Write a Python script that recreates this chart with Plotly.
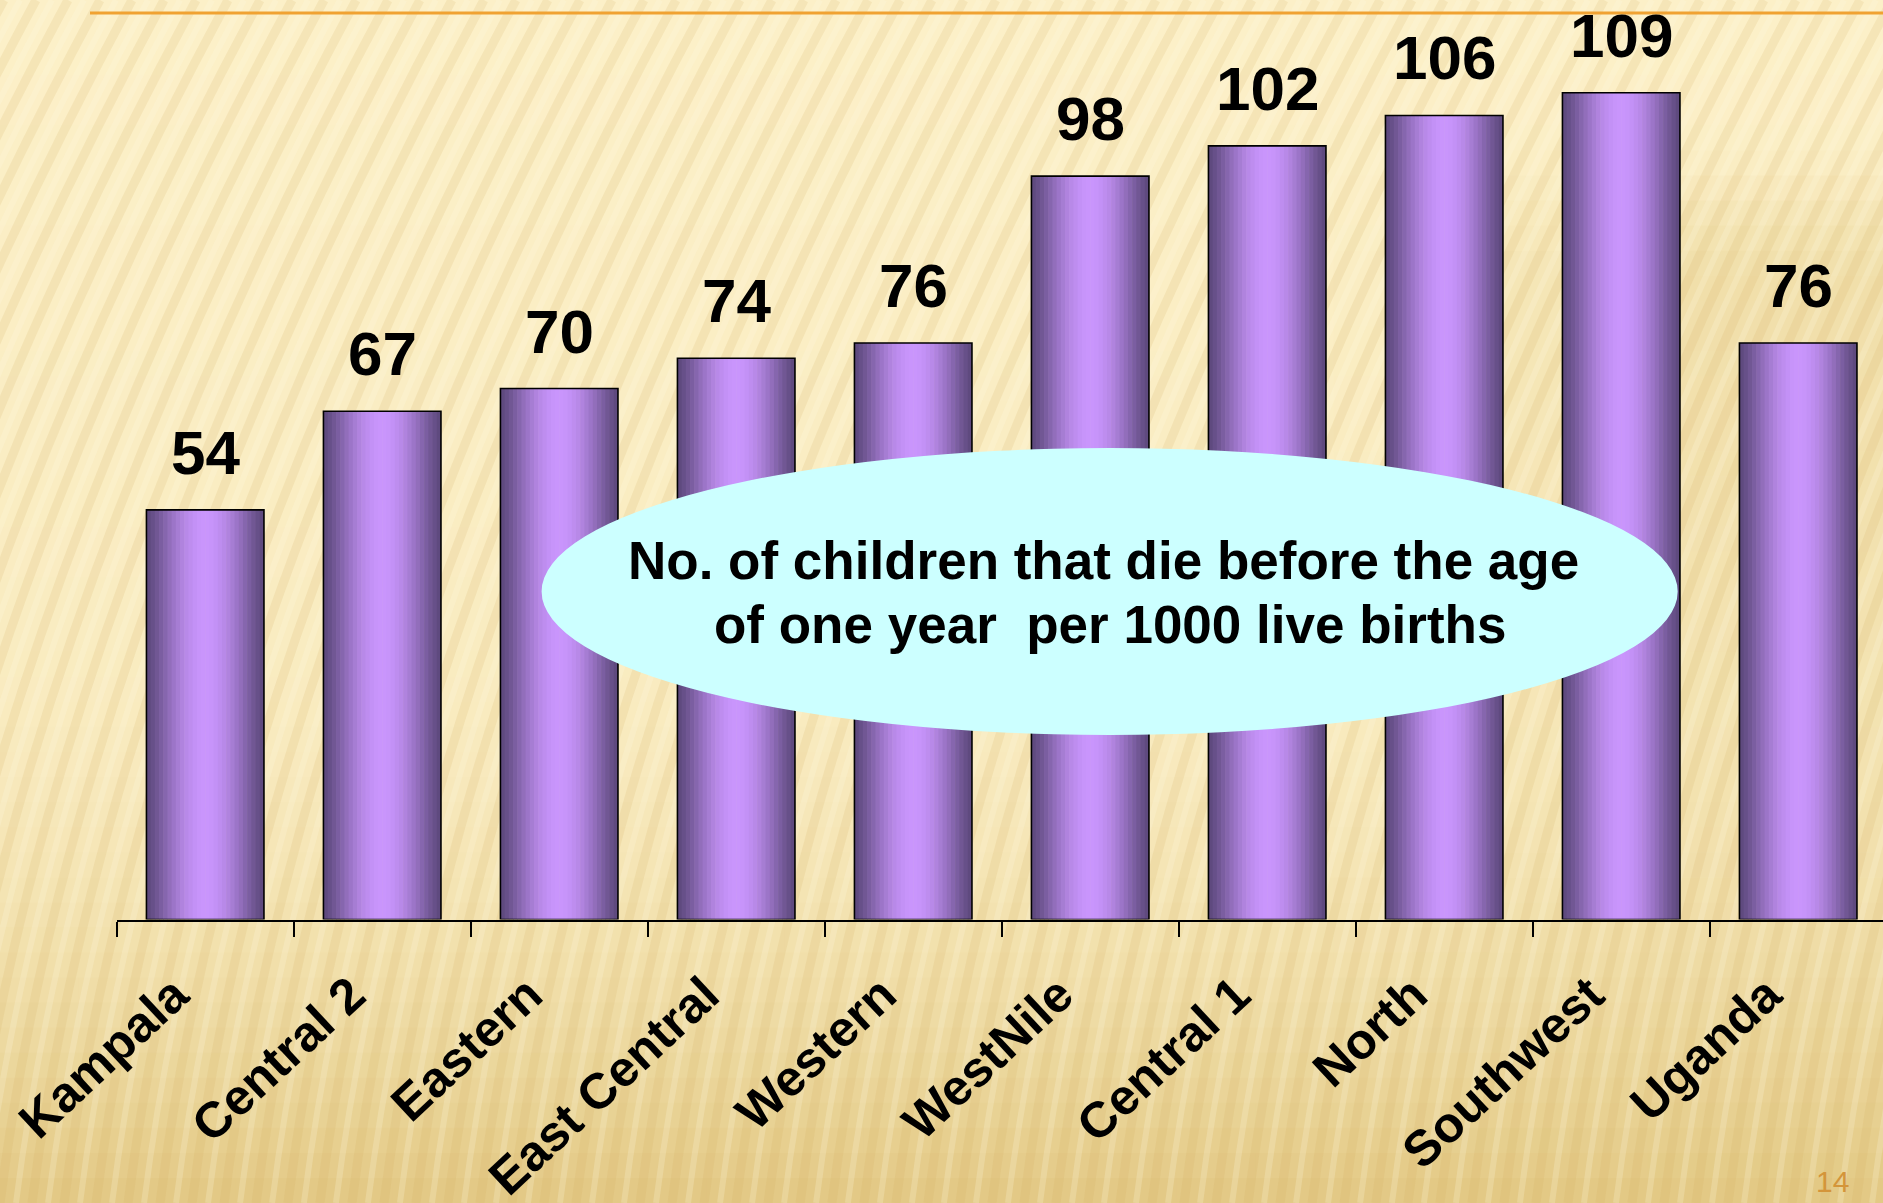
import math
import plotly.graph_objects as go

# Infant mortality by region (deaths before age one per 1000 live births)
regions = ["Kampala", "Central 2", "Eastern", "East Central", "Western",
           "WestNile", "Central 1", "North", "Southwest", "Uganda"]
deaths_per_1000 = [54, 67, 70, 74, 76, 98, 102, 106, 109, 76]

callout_lines = ["No. of children that die before the age",
                 "of one year\u00a0 per 1000 live births"]
slide_number = "14"

W, H = 1883, 1203
FONT = "Liberation Sans, Arial, Helvetica, sans-serif"


def px(x):
    return x / W


def py(y):
    return 1 - y / H


def mix(c0, c1, f):
    return "rgb(%d,%d,%d)" % tuple(round(a + (b - a) * f) for a, b in zip(c0, c1))


fig = go.Figure()

# ---- cylinder-style bars: thin overlaid strips shaded dark-light-dark ----
BAR_W = 0.664
N_STRIPS = 28
DARK = (92, 72, 124)
LIGHT = (201, 149, 252)
step = BAR_W / N_STRIPS
for i in range(N_STRIPS):
    t = (i + 0.5) / N_STRIPS
    shade = math.sin(math.pi * t) ** 1.3
    off = -BAR_W / 2 + i * step
    wid = min(step * 1.15, BAR_W / 2 - off)
    fig.add_bar(x=regions, y=deaths_per_1000, width=wid, offset=off,
                marker=dict(color=mix(DARK, LIGHT, shade), line_width=0),
                hoverinfo="skip", showlegend=False)

# outline of each bar
fig.add_bar(x=regions, y=deaths_per_1000, width=BAR_W, offset=-BAR_W / 2,
            marker=dict(color="rgba(0,0,0,0)", line=dict(color="black", width=1.6)),
            hoverinfo="skip", showlegend=False)

# value labels above the bars
for r, v in zip(regions, deaths_per_1000):
    fig.add_annotation(x=r, y=v, text=str(v), showarrow=False,
                       yanchor="bottom", yshift=21,
                       font=dict(family=FONT, size=62, color="black", weight="bold"))

# ---- slide background: warm vertical/right-side gradient ----
shapes = []
LIGHT_BG = (252, 240, 200)
DARK_BG = (226, 200, 131)
cols, rows = 24, 48
for ci in range(cols):
    x0, x1 = ci * W / cols, (ci + 1) * W / cols
    xc = (x0 + x1) / 2
    for ri in range(rows):
        y0, y1 = ri * H / rows, (ri + 1) * H / rows
        yc = (y0 + y1) / 2
        t = yc / H
        f = 0.1 * t / 0.5 if t < 0.5 else 0.1 + 0.9 * ((t - 0.5) / 0.5) ** 2
        side = max(0.0, min(1.0, (xc - 1350) / 320)) * max(0.0, min(1.0, (yc - 150) / 120))
        f = min(1.0, f + 0.5 * side * (1 - t))
        shapes.append(dict(type="rect", xref="paper", yref="paper",
                           x0=px(x0), x1=px(x1) + 0.0005, y0=py(y1) - 0.0005, y1=py(y0),
                           fillcolor=mix(LIGHT_BG, DARK_BG, f), line_width=0,
                           layer="below"))

# fine diagonal streaks across the slide
for k in range(-20, 62):
    xb = k * 32.0
    path = "M %.4f,%.4f Q %.4f,%.4f %.4f,%.4f" % (
        px(xb), py(H), px(xb + 70), py(650), px(xb + 420), py(0))
    shapes.append(dict(type="path", path=path, xref="paper", yref="paper",
                       line=dict(color="rgba(205,168,85,0.15)", width=9),
                       layer="below"))
    path2 = "M %.4f,%.4f Q %.4f,%.4f %.4f,%.4f" % (
        px(xb + 16), py(H), px(xb + 86), py(650), px(xb + 436), py(0))
    shapes.append(dict(type="path", path=path2, xref="paper", yref="paper",
                       line=dict(color="rgba(255,250,228,0.22)", width=6),
                       layer="below"))

# orange rule along the top
shapes.append(dict(type="line", xref="paper", yref="paper",
                   x0=px(90), x1=1, y0=py(13), y1=py(13),
                   line=dict(color="#F0A232", width=3), layer="above"))

# callout ellipse
shapes.append(dict(type="circle", xref="paper", yref="paper",
                   x0=px(541.6), x1=px(1677.7), y0=py(735), y1=py(448),
                   fillcolor="#CCFFFF", line_width=0, layer="above"))

fig.update_layout(shapes=shapes)

# callout text
fig.add_annotation(xref="paper", yref="paper", x=px(1103), y=py(592),
                   xanchor="center", yanchor="bottom", showarrow=False,
                   text=callout_lines[0],
                   font=dict(family=FONT, size=53, color="black", weight="bold"))
fig.add_annotation(xref="paper", yref="paper", x=px(1110), y=py(655.5),
                   xanchor="center", yanchor="bottom", showarrow=False,
                   text=callout_lines[1],
                   font=dict(family=FONT, size=53, color="black", weight="bold"))

# slide number
fig.add_annotation(xref="paper", yref="paper", x=px(1832), y=py(1200),
                   xanchor="center", yanchor="bottom", showarrow=False,
                   text=slide_number,
                   font=dict(family=FONT, size=30, color="#D4953A"))

CAT_PX = 177.0
X_LEFT = 116.7
Y_BASE = 919.5
PX_PER_UNIT = 7.585

fig.update_layout(
    width=W, height=H,
    margin=dict(l=0, r=0, t=0, b=0),
    paper_bgcolor="#FCF0C8",
    plot_bgcolor="rgba(0,0,0,0)",
    barmode="overlay",
    showlegend=False,
    xaxis=dict(
        domain=[px(X_LEFT), 1],
        range=[-0.5, -0.5 + (W - X_LEFT) / CAT_PX],
        type="category",
        tickson="boundaries",
        ticks="outside", ticklen=15, tickwidth=2, tickcolor="black",
        showline=True, linecolor="black", linewidth=2,
        showgrid=False, zeroline=False,
        tickangle=-43,
        ticklabelshift=-31,
        ticklabelstandoff=24,
        tickfont=dict(family=FONT, size=50, color="black", weight="bold"),
        automargin=False,
    ),
    yaxis=dict(
        domain=[1 - Y_BASE / H, 1],
        range=[0, Y_BASE / PX_PER_UNIT],
        visible=False, showgrid=False, zeroline=False,
        automargin=False,
    ),
)

fig.write_html("out.html")
